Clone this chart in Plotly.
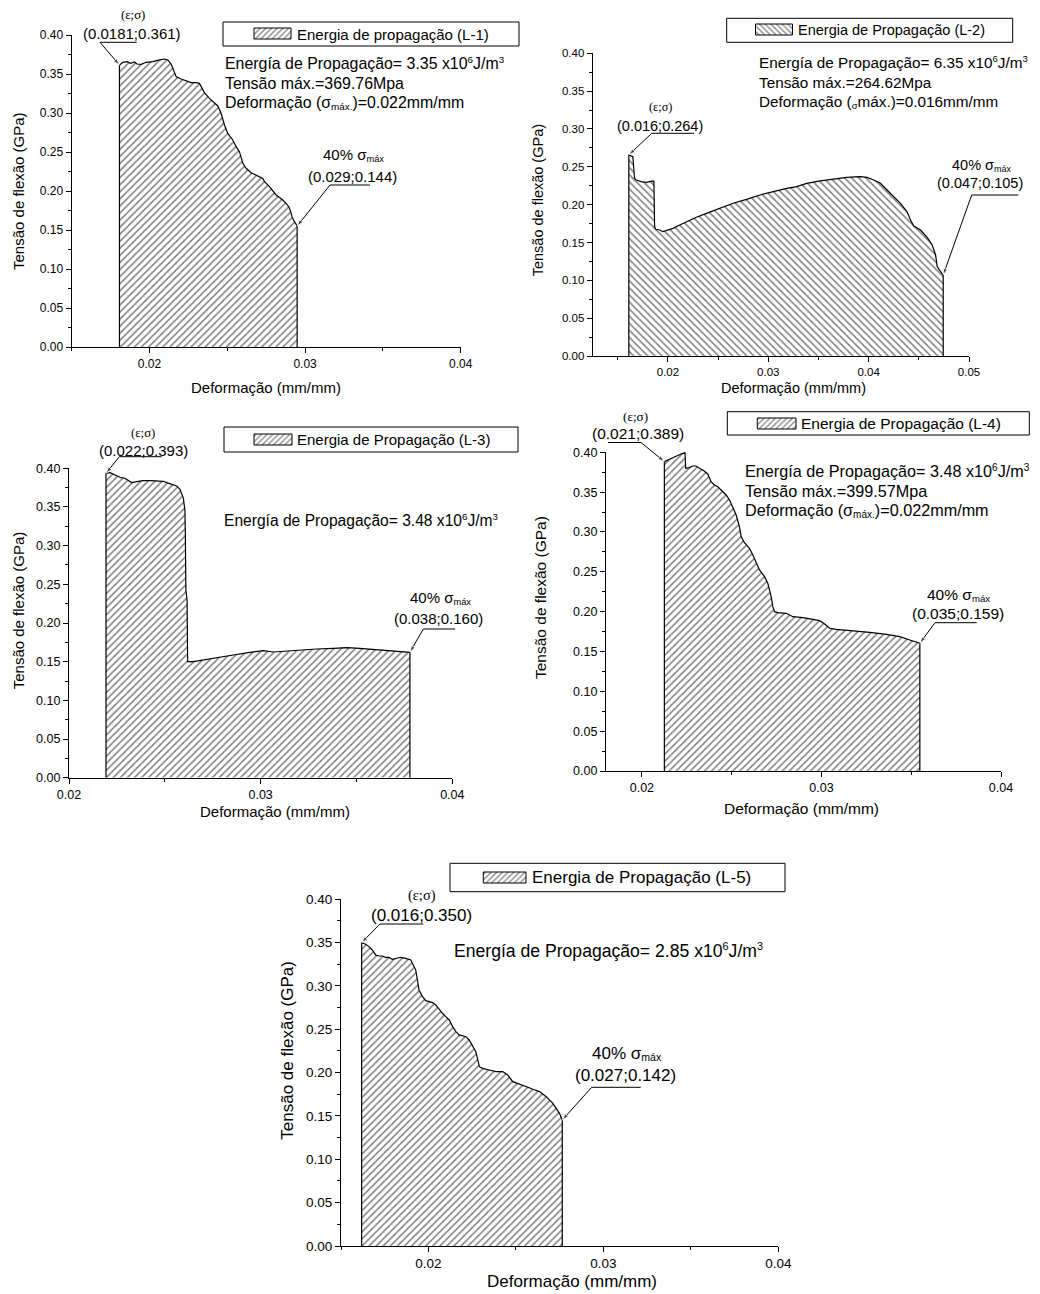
import plotly.graph_objects as go

# ---------------- data ----------------
strain1 = [0.01807, 0.01829, 0.01857, 0.01878, 0.01904, 0.01919, 0.01946, 0.01979, 0.02021, 0.02064,
           0.02096, 0.02118, 0.02139, 0.0215, 0.02171, 0.02203, 0.02236, 0.02268, 0.023, 0.02321,
           0.02332, 0.02353, 0.02385, 0.02418, 0.02439, 0.0246, 0.02482, 0.02503, 0.02535, 0.02557,
           0.02578, 0.026, 0.02621, 0.02653, 0.02685, 0.02728, 0.02739, 0.02771, 0.02814, 0.02857,
           0.02882, 0.02895, 0.02904, 0.02916, 0.02931, 0.02949]
stress1 = [0.3615, 0.365, 0.3658, 0.3637, 0.3654, 0.3628, 0.3624, 0.365, 0.3658, 0.368,
           0.3692, 0.368, 0.3628, 0.3573, 0.3466, 0.3436, 0.341, 0.3389, 0.3389, 0.338,
           0.3338, 0.3261, 0.3188, 0.3124, 0.309, 0.2996, 0.2846, 0.2739, 0.2654, 0.2568,
           0.2504, 0.2355, 0.2291, 0.2235, 0.2205, 0.2162, 0.212, 0.2056, 0.1949, 0.1885,
           0.1833, 0.1799, 0.1756, 0.1671, 0.1607, 0.1551]

strain2 = [0.0161, 0.0165, 0.01667, 0.01683, 0.01733, 0.01783, 0.01817, 0.0185, 0.0186, 0.01867,
           0.01877, 0.01917, 0.0195, 0.02, 0.0205, 0.02117, 0.02183, 0.02283, 0.02383, 0.02517,
           0.0265, 0.02783, 0.02917, 0.0305, 0.03183, 0.03283, 0.03383, 0.03517, 0.0365, 0.03783,
           0.03917, 0.03983, 0.0405, 0.04117, 0.04183, 0.0425, 0.04317, 0.04383, 0.04417, 0.0445,
           0.04517, 0.04583, 0.04633, 0.04667, 0.04683, 0.04717, 0.04743]
stress2 = [0.2656, 0.2634, 0.2348, 0.2326, 0.2304, 0.2295, 0.2304, 0.2313, 0.2304, 0.1709,
           0.1674, 0.1665, 0.1643, 0.1665, 0.1687, 0.1731, 0.1775, 0.1833, 0.1885, 0.1952,
           0.2018, 0.207, 0.2128, 0.2172, 0.2216, 0.2238, 0.2282, 0.2313, 0.2335, 0.2361,
           0.237, 0.2361, 0.2326, 0.2282, 0.2194, 0.2106, 0.2018, 0.1907, 0.1797, 0.1718,
           0.1665, 0.1568, 0.1467, 0.1335, 0.1181, 0.1115, 0.107]

strain3 = [0.02193, 0.02214, 0.0224, 0.02266, 0.02292, 0.0231, 0.02327, 0.02353, 0.02388, 0.02423,
           0.02457, 0.02492, 0.0251, 0.02536, 0.02562, 0.02579, 0.02588, 0.02597, 0.026, 0.02605,
           0.02607, 0.02607, 0.0261, 0.02616, 0.02619, 0.02649, 0.02683, 0.02736, 0.02788, 0.02857,
           0.02944, 0.03014, 0.03066, 0.03136, 0.03205, 0.03292, 0.03379, 0.03449, 0.03518, 0.03588,
           0.03657, 0.03727, 0.03779]
stress3 = [0.3935, 0.3944, 0.3914, 0.3884, 0.3871, 0.3836, 0.3815, 0.3828, 0.3841, 0.3841,
           0.3836, 0.3832, 0.3815, 0.3797, 0.3772, 0.3728, 0.3677, 0.3612, 0.3547, 0.3461,
           0.3159, 0.2728, 0.2427, 0.2297, 0.15, 0.15, 0.1513, 0.153, 0.1556, 0.1586,
           0.1621, 0.1642, 0.1625, 0.1638, 0.1651, 0.1664, 0.1672, 0.1681, 0.1672, 0.1659,
           0.1651, 0.1638, 0.1621]

strain4 = [0.02125, 0.02153, 0.0219, 0.02227, 0.0224, 0.02244, 0.02264, 0.02283, 0.02301, 0.0232,
           0.02339, 0.02367, 0.02385, 0.02404, 0.02422, 0.02441, 0.02469, 0.02488, 0.02506, 0.02525,
           0.02543, 0.02553, 0.02571, 0.02599, 0.02618, 0.02636, 0.02655, 0.02683, 0.02701, 0.0272,
           0.02729, 0.02739, 0.02757, 0.02804, 0.02841, 0.02897, 0.02953, 0.0299, 0.03018, 0.03046,
           0.03083, 0.03176, 0.03269, 0.03362, 0.03436, 0.03492, 0.03548]
stress4 = [0.3883, 0.3912, 0.3946, 0.3987, 0.4, 0.3799, 0.3808, 0.3828, 0.3828, 0.3799,
           0.3778, 0.3728, 0.3632, 0.359, 0.3569, 0.3527, 0.3464, 0.3402, 0.3318, 0.3213,
           0.3067, 0.2941, 0.2866, 0.2795, 0.2711, 0.2607, 0.2523, 0.2439, 0.2356, 0.2188,
           0.2063, 0.2, 0.1987, 0.1979, 0.1937, 0.1925, 0.1904, 0.1887, 0.1845, 0.1791,
           0.1778, 0.1762, 0.1741, 0.1715, 0.1686, 0.1644, 0.1603]

strain5 = [0.01618, 0.01641, 0.0166, 0.01679, 0.01698, 0.01717, 0.01736, 0.01755, 0.01774, 0.01793,
           0.01813, 0.01841, 0.0187, 0.01899, 0.01908, 0.01927, 0.01937, 0.01946, 0.01966, 0.01985,
           0.02004, 0.02023, 0.02042, 0.02061, 0.0208, 0.02099, 0.02119, 0.02138, 0.02157, 0.02176,
           0.02214, 0.02233, 0.02252, 0.02271, 0.02291, 0.0231, 0.02348, 0.02386, 0.02424, 0.02453,
           0.02482, 0.02539, 0.02568, 0.02597, 0.02635, 0.02673, 0.02711, 0.0273, 0.02749, 0.02765]
stress5 = [0.35, 0.3481, 0.3454, 0.3415, 0.3358, 0.3346, 0.3346, 0.3331, 0.3331, 0.3308,
           0.3319, 0.3331, 0.3319, 0.33, 0.3262, 0.3185, 0.3069, 0.2954, 0.2877, 0.2831,
           0.2819, 0.2808, 0.2781, 0.2731, 0.2685, 0.2646, 0.2608, 0.2531, 0.2473, 0.2435,
           0.2415, 0.2377, 0.23, 0.2242, 0.2069, 0.205, 0.2031, 0.2012, 0.2012, 0.1973,
           0.1896, 0.1858, 0.1831, 0.1808, 0.1781, 0.1723, 0.1646, 0.1588, 0.1531, 0.1454]

SUB = '<span style="font-size:62%;baseline-shift:-22%">{}</span>'
SUP = '<span style="font-size:62%;baseline-shift:0.6em">{}</span>'

series_names = ["Energia de propagação (L-1)", "Energia de Propagação (L-2)",
                "Energia de Propagação (L-3)", "Energia de Propagação (L-4)",
                "Energia de Propagação (L-5)"]
start_labels = ["(0.0181;0.361)", "(0.016;0.264)", "(0.022;0.393)", "(0.021;0.389)", "(0.016;0.350)"]
end_labels = ["(0.029;0.144)", "(0.047;0.105)", "(0.038;0.160)", "(0.035;0.159)", "(0.027;0.142)"]
energy_values = ["3.35", "6.35", "3.48", "3.48", "2.85"]
max_stress = ["369.76", "264.62", None, "399.57", None]
max_strain = ["0.022", "0.016", None, "0.022", None]
pct_label = "40% σ" + SUB.format("máx")


def info_for(i):
    lines = ["Energía de Propagação= " + energy_values[i] + " x10" + SUP.format("6") + "J/m" + SUP.format("3")]
    if max_stress[i] is not None:
        lines.append("Tensão máx.=" + max_stress[i] + "Mpa")
        if i == 1:
            lines.append("Deformação (" + SUB.format("σ") + "máx.)=" + max_strain[i] + "mm/mm")
        else:
            lines.append("Deformação (σ" + SUB.format("máx.") + ")=" + max_strain[i] + "mm/mm")
    return lines


x_ranges = [[0.015, 0.04], [0.0125, 0.05], [0.02, 0.04], [0.018, 0.04], [0.015, 0.04]]
y_range = [0, 0.4]
x_title = "Deformação (mm/mm)"
y_title = "Tensão de flexão (GPa)"

# ---------------- layout geometry (page pixels) ----------------
W, H = 1040, 1294
SANS = "Liberation Sans, Arial, sans-serif"
SERIF = "Liberation Serif, Times New Roman, serif"

geo = [
    dict(l=71.7, r=460.7, t=35, b=347, hatch="/", tick=12, title=15, txt=15, info_fs=15.9,
         xt=(266, 387), yt=(18, 191),
         eps=(133, 15), slab=(131.7, 33), sline=(100, 136.7, 42.3), stail=(100, 42.3),
         pct=(353, 155), elab=(352.7, 176.7), eline=(330, 370, 185), etail=(330, 185),
         info=(223.3, [63.3, 83.3, 103.3]),
         box=(223, 22, 519, 46), sw=(254, 28, 291, 39), ltx=295),
    dict(l=592.7, r=969, t=53.3, b=356, hatch="\\", tick=11.5, title=14.5, txt=14.5, info_fs=15.3,
         xt=(793.3, 388.3), yt=(538.3, 200),
         eps=(660, 107.3), slab=(660, 126), sline=(651.7, 694, 133.3), stail=(651.7, 133.3),
         pct=(981.7, 165), elab=(980, 183.3), eline=(971.7, 1018.3, 195), etail=(971.7, 195),
         info=(757.3, [61.7, 82.3, 101.7]),
         box=(726.7, 18.3, 1012.7, 42.3), sw=(755.5, 24, 792.5, 35), ltx=795.5),
    dict(l=69, r=452.3, t=468.3, b=777.7, hatch="/", tick=12.5, title=15, txt=15, info_fs=15.6,
         xt=(275, 811.7), yt=(18.3, 610),
         eps=(143.3, 433.3), slab=(143.3, 450), sline=(119.3, 161.7, 456.7), stail=(119.3, 456.7),
         pct=(440, 598.3), elab=(438.3, 618.3), eline=(423.3, 455, 629), etail=(423.3, 629),
         info=(221.7, [520]),
         box=(224, 427, 518, 452), sw=(254, 434, 292, 445), ltx=295),
    dict(l=606, r=1001, t=452.3, b=771, hatch="/", tick=12.5, title=15.5, txt=15.5, info_fs=16.2,
         xt=(801.7, 808.3), yt=(540, 598),
         eps=(635, 416.7), slab=(638.3, 433.3), sline=(608, 641, 442.5), stail=(641, 442.5),
         pct=(958.3, 595), elab=(958.3, 613.3), eline=(935, 976.7, 622.7), etail=(935, 622.7),
         info=(742.7, [470.7, 490.7, 510]),
         box=(727.3, 411.7, 1029.3, 435), sw=(757.3, 418, 796, 429), ltx=799),
    dict(l=341, r=778.3, t=899.3, b=1246, hatch="/", tick=13.5, title=17, txt=17, info_fs=17.6,
         xt=(571.7, 1281.7), yt=(286.7, 1050),
         eps=(421.7, 895), slab=(421.7, 915), sline=(380, 423.3, 924), stail=(380, 924),
         pct=(626.7, 1053.3), elab=(625, 1075), eline=(591.7, 640.7, 1087.3), etail=(591.7, 1087.3),
         info=(451.7, [950]),
         box=(450, 863.3, 785, 891.7), sw=(483.3, 872, 526, 883), ltx=530),
]

strains = [strain1, strain2, strain3, strain4, strain5]
stresses = [stress1, stress2, stress3, stress4, stress5]

fig = go.Figure()
layout = dict(width=W, height=H, margin=dict(l=0, r=0, t=0, b=0, autoexpand=False),
              paper_bgcolor="white", plot_bgcolor="rgba(0,0,0,0)", showlegend=False,
              font=dict(family=SANS, color="black"))
annotations = []
shapes = []

OV = "6"  # overlay axes spanning the page, in page-pixel units, for decorations
ovx, ovy = "x" + OV, "y" + OV


def pat(shape, size=5):
    return dict(shape=shape, size=size, solidity=0.3, fgcolor="black", bgcolor="white")


def text(t, x, y, size, family=SANS, xanchor="center", angle=0):
    return dict(text=t, x=x, y=y, xref=ovx, yref=ovy, showarrow=False, xanchor=xanchor,
                textangle=angle, font=dict(size=size, family=family, color="black"))


for i in range(5):
    n = str(i + 1)
    g = geo[i]
    xs, ys = strains[i], stresses[i]
    xr = x_ranges[i]
    # filled area under the curve, closed down to zero at both ends
    fig.add_trace(go.Scatter(
        x=[xs[0]] + xs + [xs[-1]], y=[0] + ys + [0],
        mode="lines", fill="toself", fillcolor="white", fillpattern=pat(g["hatch"]),
        line=dict(color="black", width=1.2), name=series_names[i],
        xaxis="x" + n, yaxis="y" + n, hoverinfo="skip"))

    ax_common = dict(showline=True, linecolor="black", linewidth=1.2, showgrid=False, automargin=False,
                     zeroline=False, ticks="outside", ticklen=5, tickwidth=1, tickcolor="black",
                     tickfont=dict(size=g["tick"], family=SANS, color="black"), tickformat=".2f")
    layout["xaxis" + n] = dict(ax_common, domain=[g["l"] / W, g["r"] / W], range=xr,
                               anchor="y" + n, dtick=0.01, tick0=0,
                               minor=dict(dtick=0.005, ticklen=3, ticks="outside", tickcolor="black"))
    layout["yaxis" + n] = dict(ax_common, domain=[1 - g["b"] / H, 1 - g["t"] / H], range=y_range,
                               anchor="x" + n, dtick=0.05, tick0=0,
                               minor=dict(dtick=0.025, ticklen=3, ticks="outside", tickcolor="black"))
    annotations.append(text(x_title, g["xt"][0], g["xt"][1], g["title"]))
    annotations.append(text(y_title, g["yt"][0], g["yt"][1], g["title"], angle=-90))

    def to_px(x, y):
        px = g["l"] + (x - xr[0]) / (xr[1] - xr[0]) * (g["r"] - g["l"])
        py = g["b"] - (y - y_range[0]) / (y_range[1] - y_range[0]) * (g["b"] - g["t"])
        return px, py

    fsz = g["txt"]
    # start-point label, leader and arrow
    annotations.append(text("(ε;σ)", g["eps"][0], g["eps"][1], fsz * 0.85, family=SERIF))
    annotations.append(text(start_labels[i], g["slab"][0], g["slab"][1], fsz))
    shapes.append(dict(type="line", xref=ovx, yref=ovy, x0=g["sline"][0], x1=g["sline"][1],
                       y0=g["sline"][2], y1=g["sline"][2], line=dict(color="black", width=1)))
    # end-point label, leader and arrow
    annotations.append(text(pct_label, g["pct"][0], g["pct"][1], fsz))
    annotations.append(text(end_labels[i], g["elab"][0], g["elab"][1], fsz))
    shapes.append(dict(type="line", xref=ovx, yref=ovy, x0=g["eline"][0], x1=g["eline"][1],
                       y0=g["eline"][2], y1=g["eline"][2], line=dict(color="black", width=1)))
    for tail, k in ((g["stail"], 0), (g["etail"], -1)):
        hx, hy = to_px(xs[k], ys[k])
        fig.add_trace(go.Scatter(
            x=[tail[0], hx], y=[tail[1], hy], mode="lines+markers",
            line=dict(color="black", width=1),
            marker=dict(symbol="arrow", size=[0, 7], angleref="previous", color="black"),
            xaxis=ovx, yaxis=ovy, hoverinfo="skip", showlegend=False))
    # info text block
    for line, yy in zip(info_for(i), g["info"][1]):
        annotations.append(text(line, g["info"][0], yy, g["info_fs"], xanchor="left"))
    # legend box
    bx = g["box"]
    shapes.append(dict(type="rect", xref=ovx, yref=ovy, x0=bx[0], x1=bx[2], y0=bx[1], y1=bx[3],
                       line=dict(color="black", width=1), fillcolor="rgba(0,0,0,0)"))
    sw = g["sw"]
    fig.add_trace(go.Scatter(
        x=[sw[0], sw[2], sw[2], sw[0], sw[0]], y=[sw[1], sw[1], sw[3], sw[3], sw[1]],
        mode="lines", fill="toself", fillcolor="white", fillpattern=pat(g["hatch"], 4),
        line=dict(color="black", width=1), xaxis=ovx, yaxis=ovy, hoverinfo="skip",
        showlegend=False))
    annotations.append(text(series_names[i], g["ltx"], (bx[1] + bx[3]) / 2, fsz, xanchor="left"))

layout["xaxis" + OV] = dict(domain=[0, 1], range=[0, W], visible=False, anchor=ovy,
                            fixedrange=True, automargin=False)
layout["yaxis" + OV] = dict(domain=[0, 1], range=[H, 0], visible=False, anchor=ovx,
                            fixedrange=True, automargin=False)
layout["annotations"] = annotations
layout["shapes"] = shapes
fig.update_layout(**layout)
fig.write_html("out.html")
